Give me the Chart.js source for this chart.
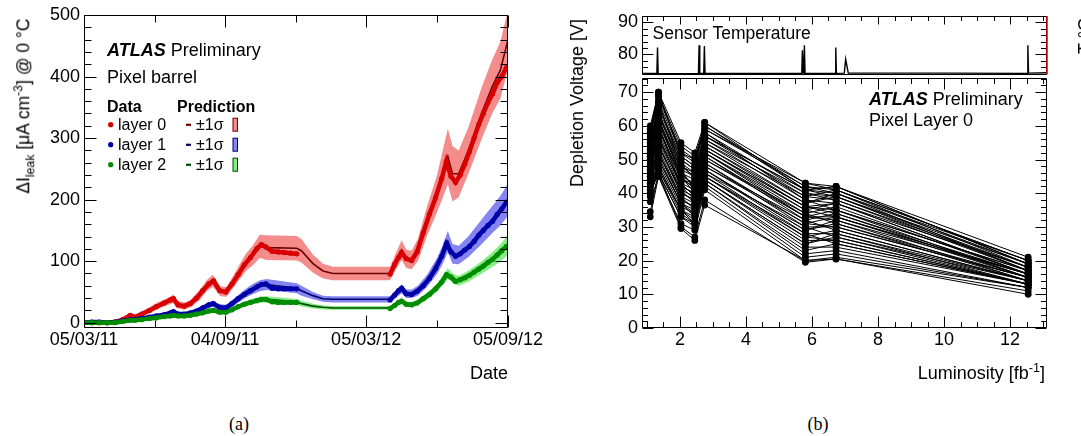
<!DOCTYPE html>
<html><head><meta charset="utf-8">
<script src="https://cdn.jsdelivr.net/npm/chart.js@4.4.1/dist/chart.umd.min.js"></script>
<style>
html,body{margin:0;padding:0;background:#fff;}
#wrap{position:relative;width:1081px;height:436px;overflow:hidden;font-family:"Liberation Sans",Arial,Helvetica,sans-serif;color:#000;background:#fff;}
canvas{position:absolute;}
.t{position:absolute;white-space:nowrap;line-height:1;transform:translate(0,-50%);}
.r{transform:translate(-100%,-50%);}
.c{transform:translate(-50%,-50%);}
.rot{transform:translate(-50%,-50%) rotate(-90deg);}
sub,sup{font-size:70%;line-height:0;}
</style></head><body><div id="wrap">
<canvas id="cA" width="560" height="400" style="left:0;top:0"></canvas>
<canvas id="cC" width="541" height="80" style="left:540px;top:0"></canvas>
<canvas id="cB" width="541" height="326" style="left:540px;top:74px"></canvas>

<div class="t" style="left:107px;top:49.5px;font-size:18px"><b><i>ATLAS</i></b> Preliminary</div>
<div class="t" style="left:107px;top:76.5px;font-size:18px">Pixel barrel</div>
<div class="t" style="left:107px;top:106.5px;font-size:16px;font-weight:bold">Data</div>
<div class="t" style="left:177px;top:106.5px;font-size:16px;font-weight:bold">Prediction</div>
<div class="t" style="left:118px;top:124.5px;font-size:16px">layer 0</div>
<div class="t" style="left:118px;top:144.5px;font-size:16px">layer 1</div>
<div class="t" style="left:118px;top:164.5px;font-size:16px">layer 2</div>
<div class="t" style="left:196px;top:124.5px;font-size:16px">±1σ</div>
<div class="t" style="left:196px;top:144.5px;font-size:16px">±1σ</div>
<div class="t" style="left:196px;top:164.5px;font-size:16px">±1σ</div>
<div class="t r" style="left:508px;top:373px;font-size:18px">Date</div>
<div class="t rot" style="left:24px;top:106px;font-size:17.5px">ΔI<sub>leak</sub> [μA cm<sup>-3</sup>] @ 0 °C</div>

<div class="t rot" style="left:577px;top:103px;font-size:18px">Depletion Voltage [V]</div>
<div class="t" style="left:652.5px;top:33.7px;font-size:17.5px">Sensor Temperature</div>
<div class="t" style="left:869px;top:98.5px;font-size:18px"><b><i>ATLAS</i></b> Preliminary</div>
<div class="t" style="left:869px;top:119.7px;font-size:18px">Pixel Layer 0</div>
<div class="t r" style="left:1045px;top:373px;font-size:18px">Luminosity [fb<sup>-1</sup>]</div>
<div class="t rot" style="left:1085px;top:36px;font-size:18px">T °C</div>

<div class="t c" style="left:239px;top:424px;font-size:18px;font-family:'Liberation Serif','Times New Roman',serif">(a)</div>
<div class="t c" style="left:818px;top:424px;font-size:18px;font-family:'Liberation Serif','Times New Roman',serif">(b)</div>
</div>
<script>
// ---------------- DATA (left panel: leakage current vs date, days since 05/03/11) ----------------
const tickDays  = [0, 183, 366, 550];
const tickDates = ['05/03/11', '04/09/11', '05/03/12', '05/09/12'];
const yTicksLeft = [0, 100, 200, 300, 400, 500];

const predDays = [0,40,52,60,66,80,94,110,116,120,130,138,150,159,167,172,177,185,198,210,218,228,237,276,282,297,310,323,397,403,412,418,425,433,445,458,465,472,478,486,499,516,530,540,550];
const pred0 = [0,1,6,12,9,17,27,35,39,30,27,31,45,60,68,60,51,50,75,98,108,124,122,121,117,96,84,80,80,96,118,104,102,118,165,210,240,270,242,242,281,341,385,410,460];
const sig0  = [0,0.5,2,3,3,4,5,6,7,6,6,6,8,9,10,9,8,8,11,14,16,19,20,20,19,15,12,11,11,13,16,15,15,18,24,30,38,45,45,38,38,42,44,46,48];
const pred1 = [0,1,3,5.5,5,8,11,15,18,14,14,16,21,27,31,27,25,24,37,48,54,60,62,56,52,44,39,38,38,45,55,47,47,52,68,92,110,132,112,110,124,148,168,182,200];
const sig1  = [0,0.3,1,1.5,1.5,2,2.5,3,3,3,3,3,4,5,5,5,5,5,6,7,8,9,9,8,8,6,5,5,5,6,7,7,7,8,10,13,15,17,16,15,17,20,22,24,26];
const pred2 = [0,0.5,2,4,4,6,8,11,12,11,11,12,15,18,20,18,17,17,25,31,34,37,38,34,31,27,25,24,24,29,35,30,30,33,43,57,68,80,72,68,76,90,103,113,127];
const sig2  = [0,0.2,0.5,1,1,1.2,1.5,2,2,2,2,2,2.5,3,3,3,3,3,3.5,4,4.5,5,5,4.5,4.5,4,3.5,3,3,3.5,4,4,4,4.5,5.5,6.5,7.5,8.5,8,8,9,10,12,14,16];

const dataDays = [0,10,20,30,40,50,60,66,75,85,94,104,112,116,122,130,138,146,154,162,168,176,184,192,200,208,216,224,230,236,244,252,260,268,276,330,397,403,408,412,418,425,432,440,448,456,464,470,476,482,488,494,500,506,512,518,524,530,536,542,548];
const data0 = [0,0,0,0,1,5,12,9,14,20,26,32,37,39,29,27,31,40,52,63,68,52,50,63,78,94,106,120,127,123,116,115,114,113,112,null,79,95,106,114,104,101,115,146,176,203,234,262,238,228,240,258,278,300,322,340,358,372,390,400,415];
const data1 = [0,1,1,0,1,3,5,5,7,9,11,13,16,18,14,14,16,19,24,29,31,25,24,31,39,46,52,58,62,63,56,55,55,55,55,null,37,45,52,56,47,46,51,60,72,88,108,128,115,108,112,118,124,132,142,150,158,165,176,185,196];
const data2 = [0,0,0,0,0,2,4,4,5,7,8,10,11,12,11,11,12,14,16,19,20,17,17,21,26,30,33,36,38,38,34,33,33,33,33,null,23,28,33,35,30,29,32,39,46,55,66,78,74,67,70,73,77,82,87,92,98,103,110,117,124];

// ---------------- DATA (right panel: depletion voltage vs luminosity) ----------------
const xTicksRight = [2, 4, 6, 8, 10, 12];
const yTicksRight = [0, 10, 20, 30, 40, 50, 60, 70];
const yTicksTemp  = [80, 90];
const lumCols = [1.1, 1.35, 2.03, 2.45, 2.75, 5.8, 6.73, 12.55];
const vdep = [
  [60,70,55,52,61,43,42,21],[59,69,54,51,60,42,41,20],[58,68,53,50,60,41,42,19],[57,67,52,49,59,42,40,19],
  [56,66,51,48,58,40,39,18],[56,65,50,47,57,39,41,18],[55,64,49,46,56,38,37,18],[54,63,48,46,56,40,38,17],
  [54,62,47,45,55,37,39,17],[53,62,46,44,54,36,35,17],[52,61,45,43,53,35,37,16],[52,60,44,43,53,36,34,16],
  [51,59,44,42,52,34,36,16],[50,58,43,41,51,33,32,16],[50,57,42,40,51,32,34,15],[49,57,42,40,50,34,31,15],
  [48,56,41,39,49,31,33,15],[48,55,40,38,49,30,30,15],[47,54,40,38,48,32,29,14],[46,53,39,37,47,29,31,14],
  [46,52,38,36,47,28,28,14],[45,52,38,36,46,30,27,14],[44,51,37,35,46,27,29,14],[44,50,37,34,45,26,26,13],
  [43,49,36,34,45,28,25,13],[42,48,35,33,44,25,27,13],[42,47,35,32,44,24,24,13],[41,47,34,31,43,23,25,13],
  [40,46,33,31,43,22,23,12],[40,46,33,30,42,21,22,12],[37.5,45,31,29,41,20,21,12],[34.5,46,30,27,38,19.5,20.5,11],
  [33,45,29.5,26,36.5,20,20.5,10],[58,70,51,48,61,41,40,20],[48,64,47,41,58,38,35,17],[45,60,42,38,52,33,33,16],
  [57,69,52,50,59,43,41,20],[55,66,50,47,57,41,42,19],[53,63,49,44,55,39,38,18],[51,61,46,42,54,37,40,17],
  [49,59,45,41,52,35,33,16],[47,56,43,39,50,33,35,15],[45,54,41,37,48,31,30,15],[43,52,39,35,47,29,32,14],
  [41,50,37,33,45,27,26,13],[39,48,35,31,44,25,28,13],[52,67,48,45,57,41,39,19],[50,62,45,40,53,36,37,16]
];
const tempLum = [0.85,1.30,1.32,1.34,2.52,2.56,2.58,2.60,2.72,2.74,2.76,5.69,5.71,5.73,5.75,5.77,5.79,6.70,6.72,6.74,6.98,7.02,7.10,10.0,12.52,12.54,12.56,13.12];
const tempVal = [74.1,74.1,82.2,74.0,74.0,73.9,82.9,74.1,74.1,82.6,74.1,74.1,81.3,74.3,74.2,82.9,74.1,74.1,82.2,74.1,74.2,78.5,74.2,74.2,74.1,82.9,74.2,74.3];

// ---------------- helpers ----------------
const FF = '"Liberation Sans", Arial, Helvetica, sans-serif';
const pts = (xs, ys) => xs.map((x, i) => ({x, y: ys[i]}));
const shift = (p, s, k) => p.map((v, i) => v + k * s[i]);
function range(a, b, step, skip) { const r = []; for (let v = a; v <= b + 1e-9; v += step) { const q = Math.round(v * 100) / 100; if (!skip.some(s => Math.abs(s - q) < 1e-6)) r.push(q); } return r; }

function makeFrame(cfg) {
  return { id: 'frame', afterDraw(chart) {
    const ctx = chart.ctx, a = chart.chartArea, xs = chart.scales.x, ys = chart.scales.y;
    const L = Math.round(a.left) + 0.5, R = Math.round(a.right) - 0.5, T = Math.round(a.top) + 0.5, B = Math.round(a.bottom) - 0.5;
    ctx.save(); ctx.strokeStyle = '#000'; ctx.lineWidth = 1; ctx.beginPath();
    const xt = (vals, len) => vals.forEach(v => { const p = Math.round(xs.getPixelForValue(v)) + 0.5; if (p < L - 1 || p > R + 1) return;
      if (cfg.bottom !== false) { ctx.moveTo(p, B); ctx.lineTo(p, B - len); }
      if (cfg.top !== false) { ctx.moveTo(p, T); ctx.lineTo(p, T + len); } });
    const yt = (vals, len) => vals.forEach(v => { const p = Math.round(ys.getPixelForValue(v)) + 0.5; if (p < T - 1 || p > B + 1) return;
      ctx.moveTo(L, p); ctx.lineTo(L + len, p); ctx.moveTo(R, p); ctx.lineTo(R - len, p); });
    xt(cfg.xMaj, cfg.xMajLen); xt(cfg.xMin, cfg.xMinLen); yt(cfg.yMaj, cfg.yMajLen); yt(cfg.yMin, cfg.yMinLen);
    ctx.rect(L, T, R - L, B - T); ctx.stroke();
    if (cfg.redRight) { ctx.beginPath(); ctx.strokeStyle = '#e00000'; ctx.lineWidth = 1.5; ctx.moveTo(R + 0.5, T - 0.5); ctx.lineTo(R + 0.5, B); ctx.stroke(); }
    ctx.restore();
  }};
}
function scaleX(min, max, ticks, labelFn, h, show) {
  return { type: 'linear', min, max, grid: { display: false, drawTicks: false }, border: { display: false },
    afterBuildTicks: s => { s.ticks = ticks.map(v => ({ value: v })); },
    afterFit: s => { s.height = h; s.paddingLeft = 0; s.paddingRight = 0; s.paddingTop = 0; s.paddingBottom = 0; },
    ticks: { display: show, autoSkip: false, maxRotation: 0, minRotation: 0, padding: 1, color: '#000', font: { family: FF, size: 18 }, callback: labelFn } };
}
function scaleY(min, max, ticks, w) {
  return { type: 'linear', min, max, grid: { display: false, drawTicks: false }, border: { display: false },
    afterBuildTicks: s => { s.ticks = ticks.map(v => ({ value: v })); },
    afterFit: s => { s.width = w; s.paddingLeft = 0; s.paddingRight = 0; s.paddingTop = 0; s.paddingBottom = 0; },
    ticks: { autoSkip: false, padding: 4, color: '#000', font: { family: FF, size: 18 }, callback: v => String(v) } };
}
const baseOpts = { responsive: false, animation: false, events: [], plugins: { legend: { display: false }, tooltip: { enabled: false } } };

// ---------------- LEFT CHART ----------------
const dataCol = ['#d80000', '#0000a8', '#008c00'];
const predCol = ['#6e0000', '#000068', '#004800'];
const bandCol = ['rgba(242,120,120,0.85)', 'rgba(110,110,240,0.85)', 'rgba(110,235,110,0.85)'];
const preds = [pred0, pred1, pred2], sigs = [sig0, sig1, sig2], datas = [data0, data1, data2];
const dsA = [];
for (let i = 0; i < 3; i++) {
  dsA.push({ data: pts(predDays, shift(preds[i], sigs[i], -1)), borderWidth: 0, pointRadius: 0, fill: false, order: 30 - i, tension: 0 });
  dsA.push({ data: pts(predDays, shift(preds[i], sigs[i], 1)), borderWidth: 0, pointRadius: 0, fill: '-1', backgroundColor: bandCol[i], order: 30 - i, tension: 0 });
}
for (let i = 0; i < 3; i++) dsA.push({ data: pts(predDays, preds[i]), borderColor: predCol[i], borderWidth: 1.6, pointRadius: 0, fill: false, order: 20 - i, tension: 0 });
for (let i = 0; i < 3; i++) dsA.push({ data: pts(dataDays, datas[i]), borderColor: dataCol[i], borderWidth: 4.5, pointRadius: 2.6, pointBorderWidth: 0, pointBackgroundColor: dataCol[i], fill: false, spanGaps: false, order: 10 - i, tension: 0 });

const legendA = { id: 'legendA', afterDraw(chart) {
  const ctx = chart.ctx; const rowsY = [124.7, 144.7, 164.7];
  ctx.save();
  rowsY.forEach((y, i) => {
    ctx.fillStyle = dataCol[i]; ctx.beginPath(); ctx.arc(110.7, y, 2.6, 0, 2 * Math.PI); ctx.fill();
    ctx.fillStyle = predCol[i]; ctx.fillRect(186, y - 1, 5, 2.2);
    ctx.fillStyle = bandCol[i]; ctx.fillRect(233, y - 6.5, 4.5, 13);
    ctx.strokeStyle = predCol[i]; ctx.lineWidth = 1; ctx.strokeRect(233, y - 6.5, 4.5, 13);
  });
  ctx.restore();
}};

new Chart(document.getElementById('cA'), {
  type: 'line', data: { datasets: dsA },
  options: Object.assign({}, baseOpts, {
    layout: { padding: { left: 0, top: 15, right: 52, bottom: 0 } },
    scales: {
      x: scaleX(0, 550, tickDays, v => { const k = tickDays.indexOf(v); return k >= 0 ? tickDates[k] : ''; }, 72, true),
      y: scaleY(-8.6, 500, yTicksLeft, 84)
    }
  }),
  plugins: [legendA, makeFrame({ xMaj: tickDays, xMin: [91.5, 274.5, 458], xMajLen: 12, xMinLen: 7,
    yMaj: yTicksLeft, yMin: range(0, 500, 20, yTicksLeft), yMajLen: 12, yMinLen: 7 })]
});

// ---------------- RIGHT LOWER CHART ----------------
const dsB = vdep.map(row => ({ data: pts(lumCols, row), borderColor: '#000', borderWidth: 1, pointRadius: 3.4, pointBorderWidth: 0, pointBackgroundColor: '#000', fill: false, tension: 0 }));
const xMinR = range(1, 13, 0.5, xTicksRight);
new Chart(document.getElementById('cB'), {
  type: 'line', data: { datasets: dsB },
  options: Object.assign({}, baseOpts, {
    layout: { padding: { left: 0, top: 1, right: 34, bottom: 0 } },
    scales: { x: scaleX(0.85, 13.12, xTicksRight, v => String(v), 72, true), y: scaleY(0, 74.2, yTicksRight, 102) }
  }),
  plugins: [makeFrame({ xMaj: xTicksRight, xMin: xMinR, xMajLen: 11, xMinLen: 5.5,
    yMaj: yTicksRight, yMin: range(0, 74, 2, yTicksRight), yMajLen: 11, yMinLen: 5.5 })]
});

// ---------------- RIGHT TOP CHART (sensor temperature) ----------------
new Chart(document.getElementById('cC'), {
  type: 'line', data: { datasets: [{ data: pts(tempLum, tempVal), borderColor: '#000', borderWidth: 1.4, pointRadius: 0, fill: false, tension: 0 }] },
  options: Object.assign({}, baseOpts, {
    layout: { padding: { left: 0, top: 16, right: 34, bottom: 5 } },
    scales: { x: scaleX(0.85, 13.12, xTicksRight, v => '', 0, false), y: scaleY(73.6, 92, yTicksTemp, 102) }
  }),
  plugins: [makeFrame({ xMaj: xTicksRight, xMin: xMinR, xMajLen: 8, xMinLen: 4.5, bottom: false,
    yMaj: yTicksTemp, yMin: range(74, 92, 2, yTicksTemp), yMajLen: 11, yMinLen: 5.5, redRight: true })]
});
</script>
</body></html>
